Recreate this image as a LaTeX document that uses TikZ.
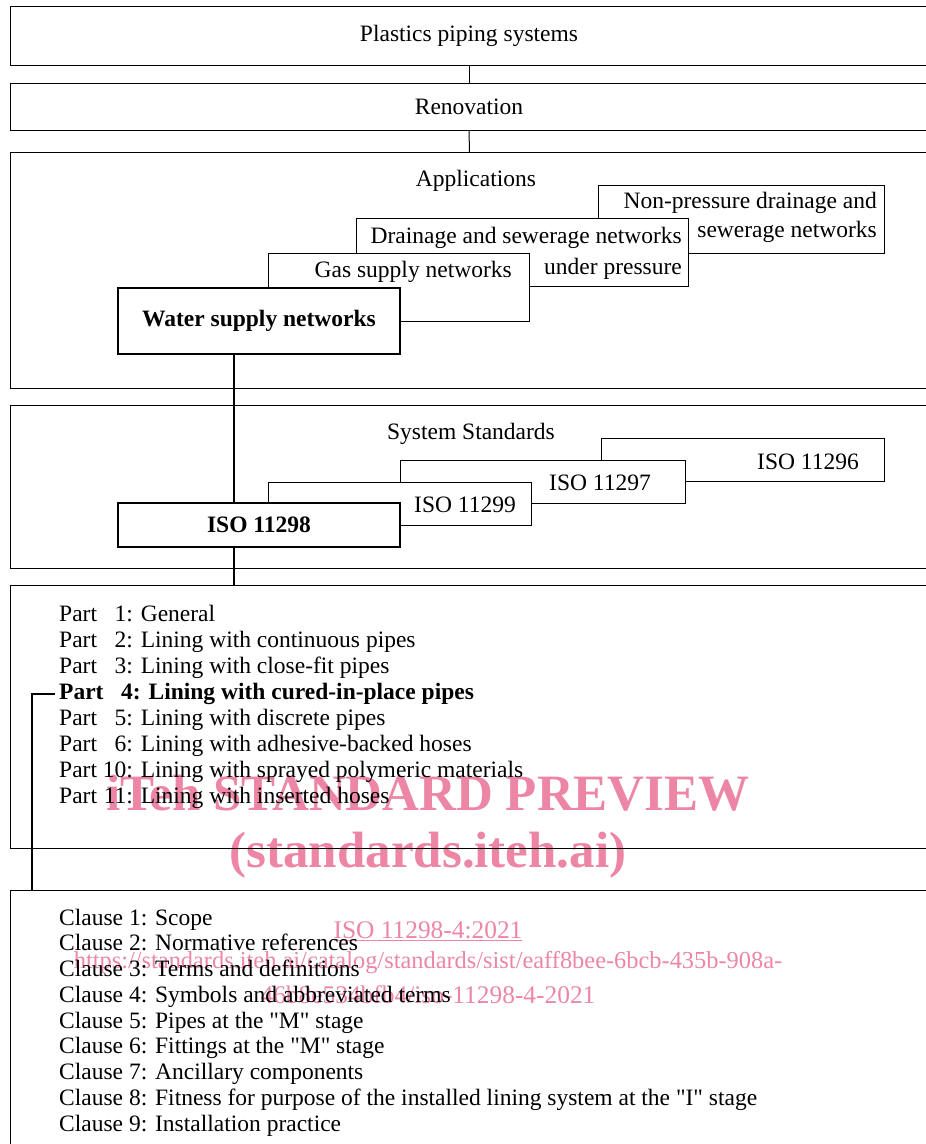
\documentclass[tikz,border=0pt]{standalone}
\usepackage{fontspec}
\setmainfont{Liberation Serif}
\usetikzlibrary{positioning}

\definecolor{markpink}{RGB}{236,134,164}

\newcommand{\partno}[1]{\makebox[1em][r]{#1}}
\newcommand{\qstage}[1]{\textquotedbl#1\textquotedbl}

\tikzset{
	txt/.style={inner sep=0pt, font=\fontsize{23.5}{26}\selectfont},
	boldtxt/.style={inner sep=0pt, font=\fontsize{23.5}{26}\selectfont\bfseries},
	listtxt/.style={txt, anchor=base west},
	outerbox/.style={draw, line width=1pt, inner sep=0pt},
	stepbox/.style={draw, fill=white, line width=1pt, inner sep=0pt, anchor=north west},
	mainbox/.style={draw, fill=white, line width=2.2pt, inner sep=0pt},
	trunkline/.style={line width=2.2pt},
	wmark/.style={inner sep=0pt, text=markpink},
}

\begin{document}
\begin{tikzpicture}[x=1pt, y=-1pt]
	\useasboundingbox (0,0) rectangle (926,1144);
	
	% watermark (behind everything)
	\node[wmark, font=\fontsize{51}{51}\selectfont\bfseries] (wmarkA) at (428,793) {iTeh STANDARD PREVIEW};
	\node[wmark, font=\fontsize{51}{51}\selectfont\bfseries] (wmarkB) at (428,855) {(standards.iteh.ai)};
	\node[wmark, font=\fontsize{25.4}{26}\selectfont] (wmarkC) at (428,931) {\underline{ISO 11298-4:2021}};
	\node[wmark, font=\fontsize{24.4}{26}\selectfont] (wmarkD) at (428,963) {https://standards.iteh.ai/catalog/standards/sist/eaff8bee-6bcb-435b-908a-};
	\node[wmark, font=\fontsize{25.4}{26}\selectfont] (wmarkE) at (428,995) {46b8e534bfb4/iso-11298-4-2021};
	
	% top levels
	\node[outerbox, txt, draw, minimum width=918, minimum height=59] (plastics) at (469,35.5) {Plastics piping systems};
	\node[outerbox, txt, draw, minimum width=918, minimum height=47] (renov) at (469,106.5) {Renovation};
	\draw[line width=1pt] (plastics.south) -- (renov.north);
	
	% applications
	\node[outerbox, minimum width=918, minimum height=236, anchor=north west] (appbox) at (10,152) {};
	\draw[line width=1pt] (renov.south) -- (appbox.north);
	\node[txt, anchor=base] (apptitle) at (476,186) {Applications};
	
	\node[stepbox, minimum width=286, minimum height=68] (nonpress) at (598,185) {};
	\node[txt, anchor=base east] (nonpressA) at (877,208) {Non-pressure drainage and};
	\node[txt, anchor=base east] (nonpressB) at (877,237) {sewerage networks};
	
	\node[stepbox, minimum width=332, minimum height=68] (drain) at (356,218) {};
	\node[txt, anchor=base east] (drainA) at (682,243) {Drainage and sewerage networks};
	\node[txt, anchor=base east] (drainB) at (682,274) {under pressure};
	
	\node[stepbox, minimum width=261, minimum height=68] (gas) at (268,253) {};
	\node[txt, anchor=base east] (gastxt) at (512,277) {Gas supply networks};
	
	\node[mainbox, boldtxt, draw, minimum width=282, minimum height=66] (water) at (259,321) {Water supply networks};
	
	% system standards
	\node[outerbox, minimum width=918, minimum height=163, anchor=north west] (stdbox) at (10,405) {};
	\node[txt, anchor=base] (stdtitle) at (471,439) {System Standards};
	
	\node[stepbox, minimum width=283, minimum height=43] (iso96) at (601,438) {};
	\node[txt, anchor=base] (iso96txt) at (808,469) {ISO 11296};
	\node[stepbox, minimum width=285, minimum height=43] (iso97) at (400,460) {};
	\node[txt, anchor=base] (iso97txt) at (600,490) {ISO 11297};
	\node[stepbox, minimum width=263, minimum height=43] (iso99) at (268,482) {};
	\node[txt, anchor=base] (iso99txt) at (465,512) {ISO 11299};
	\node[mainbox, boldtxt, draw, minimum width=282, minimum height=44] (iso98) at (259,525) {ISO 11298};
	
	% parts
	\node[outerbox, minimum width=918, minimum height=263, anchor=north west] (partbox) at (10,585) {};
	\foreach \num/\title [count=\i] in {1/General, 2/Lining with continuous pipes, 3/Lining with close-fit pipes, 4/Lining with cured-in-place pipes, 5/Lining with discrete pipes, 6/Lining with adhesive-backed hoses, 10/Lining with sprayed polymeric materials, 11/Lining with inserted hoses} {
		\pgfmathsetmacro{\y}{596 + \i * 25.9}
		\ifnum\num=4
		\node[listtxt, boldtxt, anchor=base west] (part\num) at (59,\y) {Part \partno{\num}: \title};
		\else
		\node[listtxt] (part\num) at (59,\y) {Part \partno{\num}: \title};
		\fi
	}
	
	% clauses
	\node[outerbox, minimum width=918, minimum height=280, anchor=north west] (clausebox) at (10,890) {};
	\foreach \title [count=\i] in {Scope, Normative references, Terms and definitions, Symbols and abbreviated terms, Pipes at the \qstage{M} stage, Fittings at the \qstage{M} stage, Ancillary components, Fitness for purpose of the installed lining system at the \qstage{I} stage, Installation practice} {
		\pgfmathsetmacro{\y}{899.25 + \i * 25.75}
		\node[listtxt] (clause\i) at (59,\y) {Clause \i: \title};
	}
	
	% trunk connectors
	\coordinate (trunk) at (234,0);
	\coordinate (drop) at (32,890);
	\draw[trunkline] (water.south -| trunk) -- (iso98.north -| trunk);
	\draw[trunkline] (iso98.south -| trunk) -- (partbox.north -| trunk);
	\draw[trunkline] ([xshift=-4pt]part4.west) -| (drop);
\end{tikzpicture}
\end{document}
